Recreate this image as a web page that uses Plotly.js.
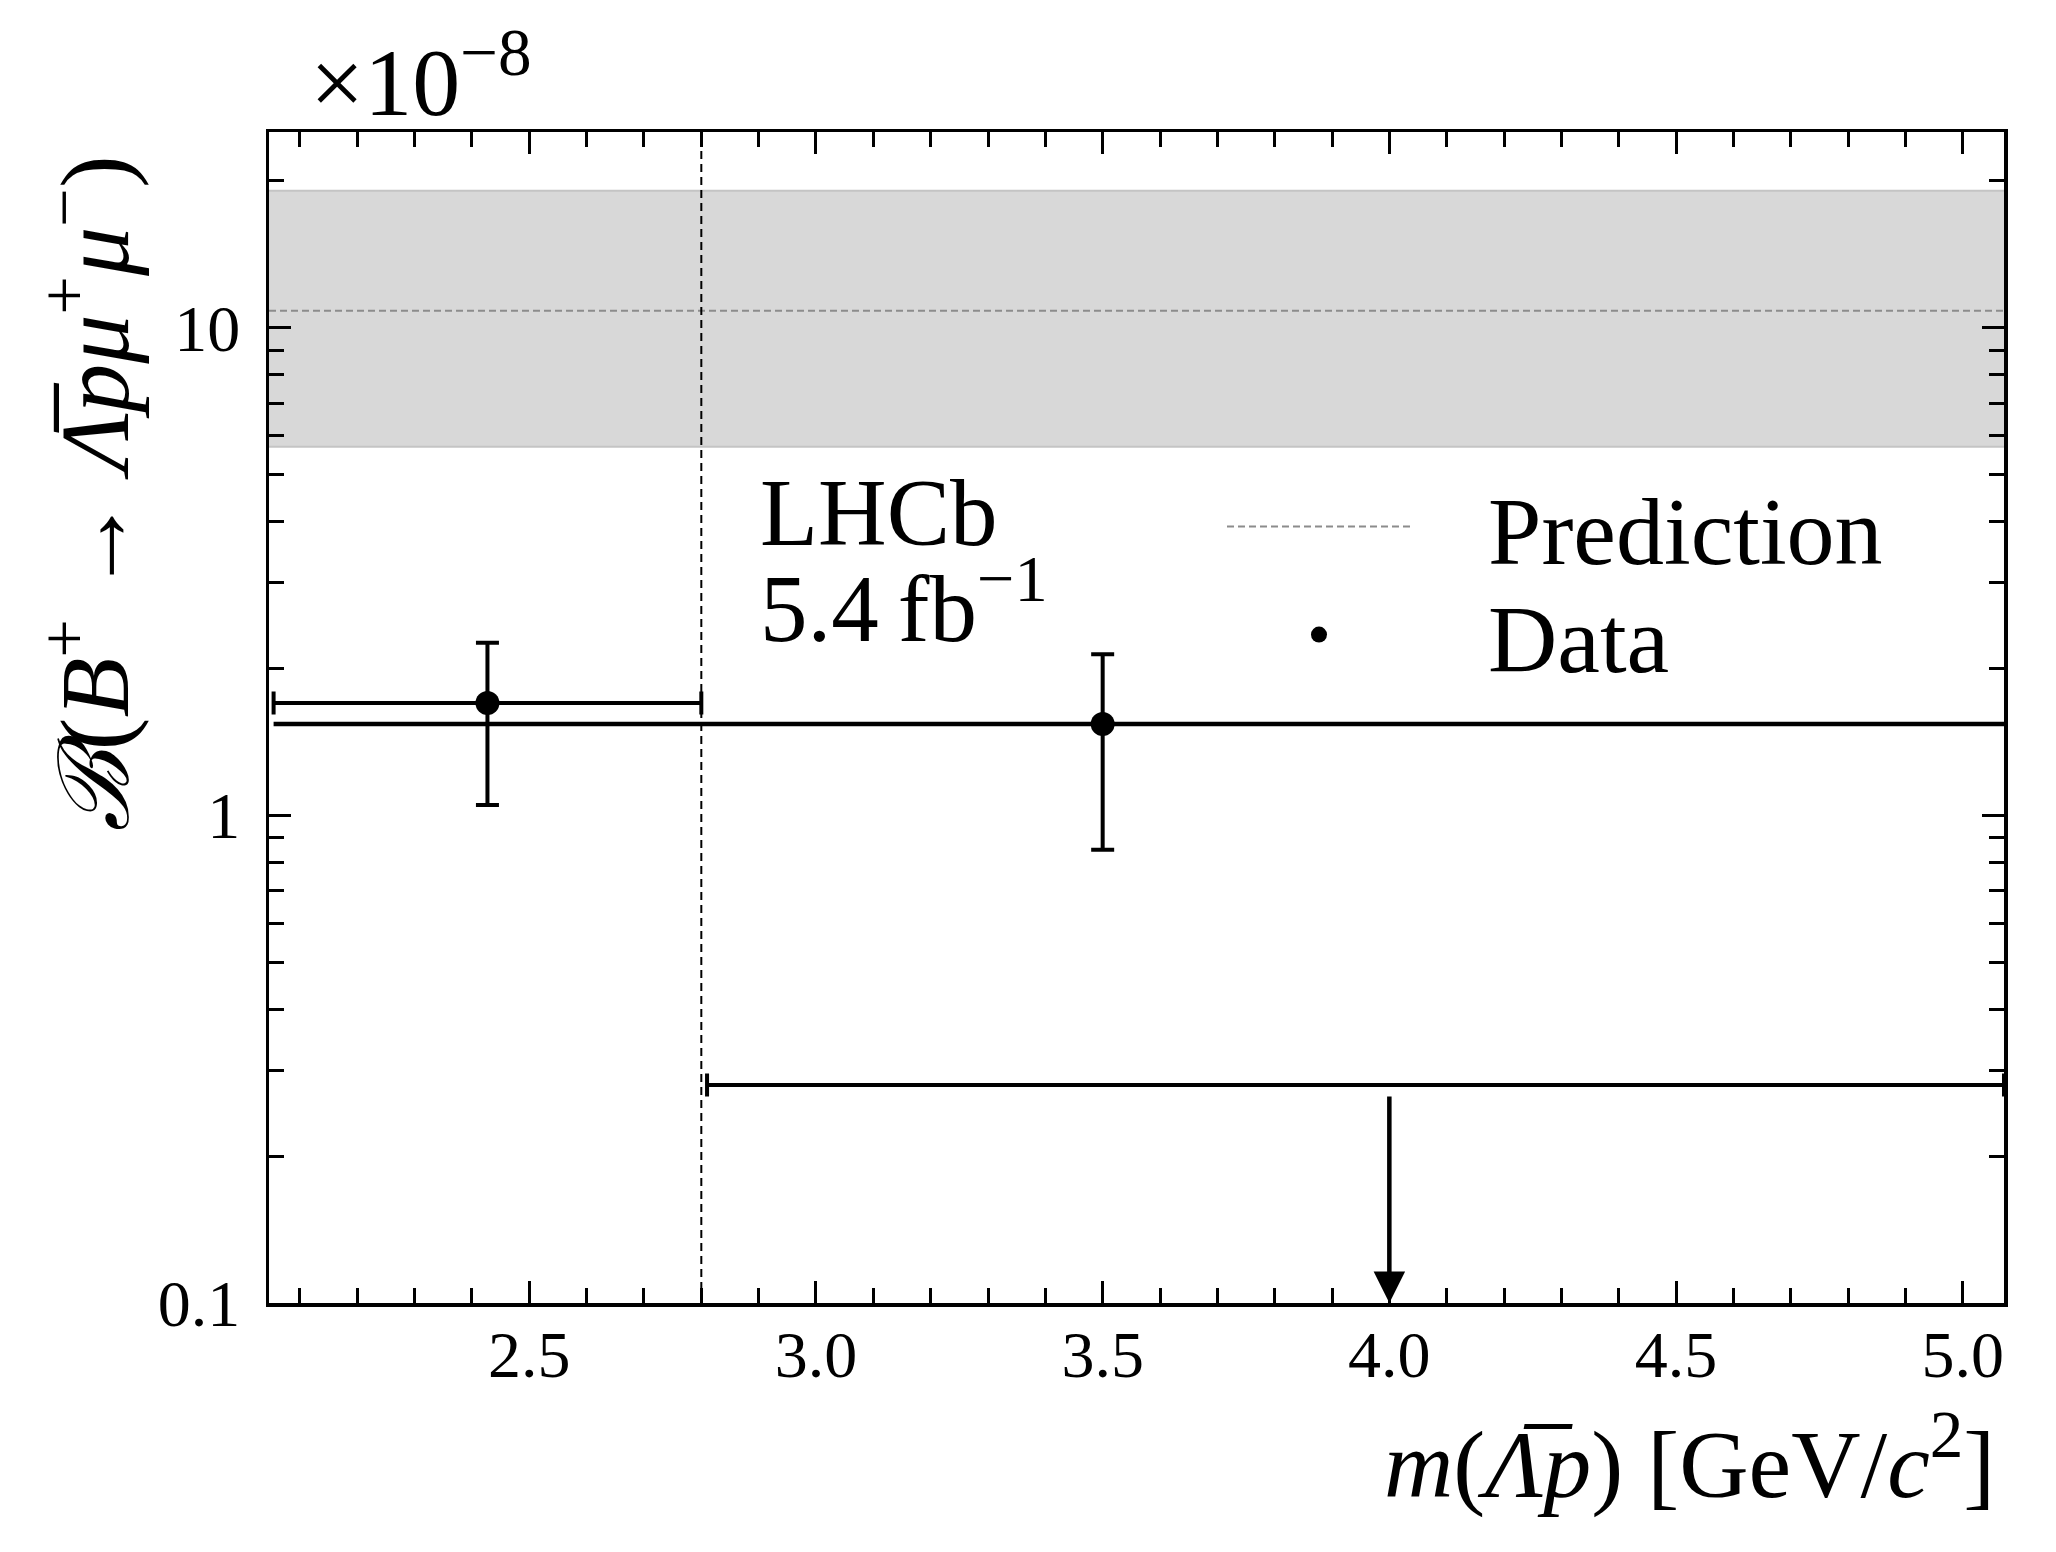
<!DOCTYPE html>
<html>
<head>
<meta charset="utf-8">
<script src="https://cdn.plot.ly/plotly-3.0.1.min.js"></script>
<style>
  html, body { margin: 0; padding: 0; background: #fff; }
  #chart { width: 2056px; height: 1552px; }
</style>
</head>
<body>
<div id="chart"></div>
<script>
// axis limits: m(Lambda-bar p) in GeV/c^2, branching fraction in units of 1e-8
const massRange = [2.046, 5.072];
const bfRange = [0.1, 25.2];

// low-mass bin measurement
const binCentre = [2.427];
const binLow = [2.054];
const binHigh = [2.8];
const bfValue = [1.70];
const bfErrHigh = [0.56];
const bfErrLow = [0.65];

// full-range measurement
const fullCentre = [3.5];
const fullLow = [2.054];
const fullHigh = [5.072];
const fullValue = [1.54];
const fullErrHigh = [0.60];
const fullErrLow = [0.69];

// upper limit in the high-mass bin
const limitBin = [2.81, 5.072];
const limitArrowX = 4.0;
const limitValue = 0.28;
const limitArrowStart = 0.267;

// theory prediction
const predCentral = 10.84;
const predLow = 5.70;
const predHigh = 19.1;

// boundary between the two mass bins
const binBoundary = 2.8;

// plot frame in pixels, used to place the free text
const frame = {left: 269.4, right: 2003.7, top: 132.3, bottom: 1303.3};
function paperX(px) { return (px - frame.left) / (frame.right - frame.left); }
function paperY(py) { return (frame.bottom - py) / (frame.bottom - frame.top); }

const FONT = 'Liberation Serif, Times New Roman, serif';

let bandLower = {
	x: massRange, y: [predLow, predLow],
	mode: 'lines', line: {color: '#c4c4c4', width: 2},
	showlegend: false, hoverinfo: 'skip'
};
let bandUpper = {
	x: massRange, y: [predHigh, predHigh],
	mode: 'lines', line: {color: '#c4c4c4', width: 2},
	fill: 'tonexty', fillcolor: '#d8d8d8',
	showlegend: false, hoverinfo: 'skip'
};
let prediction = {
	x: massRange, y: [predCentral, predCentral],
	mode: 'lines', name: '\u2002\u2005Prediction',
	line: {color: '#8c8c8c', width: 2, dash: '7px,4px'},
	legend: 'legend'
};
let data = {
	x: binCentre, y: bfValue,
	mode: 'markers', name: '\u2002\u2005Data',
	marker: {color: 'black', size: 24},
	error_y: {type: 'data', symmetric: false, array: bfErrHigh, arrayminus: bfErrLow,
		color: 'black', thickness: 4, width: 11.5},
	error_x: {type: 'data', symmetric: false,
		array: binHigh.map((h, i) => h - binCentre[i]),
		arrayminus: binLow.map((l, i) => binCentre[i] - l),
		color: 'black', thickness: 4, width: 11.5},
	legend: 'legend2'
};
let fullRange = {
	x: fullCentre, y: fullValue,
	mode: 'markers', showlegend: false,
	marker: {color: 'black', size: 24},
	error_y: {type: 'data', symmetric: false, array: fullErrHigh, arrayminus: fullErrLow,
		color: 'black', thickness: 4, width: 11.5},
	error_x: {type: 'data', symmetric: false,
		array: fullHigh.map((h, i) => h - fullCentre[i]),
		arrayminus: fullLow.map((l, i) => fullCentre[i] - l),
		color: 'black', thickness: 4.5, width: 0}
};
let upperLimit = {
	x: [limitArrowX], y: [limitValue],
	mode: 'markers', showlegend: false,
	marker: {color: 'rgba(0,0,0,0)', size: 1},
	error_x: {type: 'data', symmetric: false,
		array: [limitBin[1] - limitArrowX], arrayminus: [limitArrowX - limitBin[0]],
		color: 'black', thickness: 4, width: 11.5},
	hoverinfo: 'skip'
};

let axisStyle = {
	showgrid: false, zeroline: false,
	showline: true, linewidth: 3.5, linecolor: 'black', mirror: 'allticks',
	ticks: 'inside', ticklen: 22, tickwidth: 3, tickcolor: 'black',
	tickfont: {family: FONT, size: 66, color: 'black'}
};

let minorY = [];
for (let d of [0.1, 1]) {
	for (let k = 2; k <= 9; k++) minorY.push(+(k * d).toFixed(2));
}
minorY.push(20);

let legendStyle = {
	xanchor: 'left', yanchor: 'middle',
	font: {family: FONT, size: 96, color: 'black'},
	bgcolor: 'rgba(0,0,0,0)', borderwidth: 0, itemwidth: 184
};

let layout = {
	width: 2056, height: 1552,
	margin: {l: 269, r: 52, t: 132, b: 249},
	paper_bgcolor: 'white', plot_bgcolor: 'white',
	font: {family: FONT, color: 'black', size: 66},
	xaxis: Object.assign({}, axisStyle, {
		range: massRange,
		tick0: 2.5, dtick: 0.5, tickformat: '.1f',
		ticklabelstandoff: -9,
		minor: {ticks: 'inside', ticklen: 15, tickwidth: 3, tickcolor: 'black', tick0: 2.1, dtick: 0.1}
	}),
	yaxis: Object.assign({}, axisStyle, {
		type: 'log',
		range: bfRange.map(Math.log10),
		tickmode: 'array', tickvals: [0.1, 1, 10], ticktext: ['0.1', '1', '10'],
		ticklabelstandoff: 12,
		minor: {ticks: 'inside', ticklen: 15, tickwidth: 3, tickcolor: 'black', tickmode: 'array', tickvals: minorY}
	}),
	legend: Object.assign({}, legendStyle, {x: paperX(1222), y: paperY(527)}),
	legend2: Object.assign({}, legendStyle, {x: paperX(1222), y: paperY(635)}),
	shapes: [{
		type: 'line', xref: 'x', yref: 'paper',
		x0: binBoundary, x1: binBoundary, y0: 0, y1: 1,
		line: {color: 'black', width: 2, dash: '8px,5px'}
	}],
	annotations: [
		{
			x: limitArrowX, y: Math.log10(bfRange[0]),
			ax: limitArrowX, ay: Math.log10(limitArrowStart),
			xref: 'x', yref: 'y', axref: 'x', ayref: 'y',
			text: '', showarrow: true, arrowhead: 2, arrowsize: 1.4,
			arrowwidth: 4.5, arrowcolor: 'black', standoff: 0
		},
		{
			text: '\u00d710<sup>\u22128</sup>',
			xref: 'paper', yref: 'paper', x: paperX(308), y: paperY(76),
			xanchor: 'left', yanchor: 'middle', showarrow: false,
			font: {family: FONT, size: 96}
		},
		{
			text: 'LHCb',
			xref: 'paper', yref: 'paper', x: paperX(758), y: paperY(513),
			xanchor: 'left', yanchor: 'middle', showarrow: false,
			font: {family: FONT, size: 95}
		},
		{
			text: '5.4\u2009fb<sup>\u22121</sup>',
			xref: 'paper', yref: 'paper', x: paperX(758), y: paperY(602),
			xanchor: 'left', yanchor: 'middle', showarrow: false,
			font: {family: FONT, size: 95}
		},
		{
			text: '<i>\u212C</i>(<i>B</i><sup>+</sup> \u2192 <i>\u039B\u0305p\u03BC</i><sup>+</sup><i>\u03BC</i><sup>\u2212</sup>)',
			xref: 'paper', yref: 'paper', x: paperX(88), y: paperY(494),
			xanchor: 'center', yanchor: 'middle', textangle: -90, showarrow: false,
			font: {family: FONT, size: 98}
		},
		{
			text: '<i>m</i>(<i>\u039B\u0305p</i>) [GeV/<i>c</i><sup>2</sup>]',
			xref: 'paper', yref: 'paper', x: paperX(1997), y: paperY(1458),
			xanchor: 'right', yanchor: 'middle', showarrow: false,
			font: {family: FONT, size: 96}
		}
	]
};

Plotly.newPlot('chart', [bandLower, bandUpper, prediction, data, fullRange, upperLimit], layout,
	{displayModeBar: false, staticPlot: true});
</script>
</body>
</html>
